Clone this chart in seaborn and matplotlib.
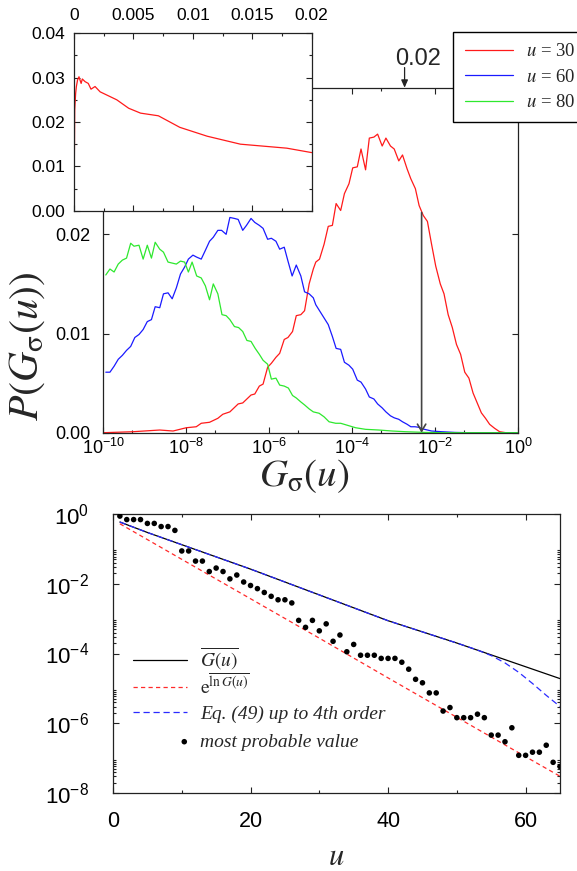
import numpy as np
import pandas as pd
import matplotlib
matplotlib.use("Agg")
import matplotlib.pyplot as plt
from matplotlib.ticker import FixedLocator, FixedFormatter, NullFormatter
from matplotlib.legend import Legend
from matplotlib.legend_handler import HandlerPathCollection
from matplotlib.collections import PathCollection
import seaborn as sns

# ---------------- distributions P(G_sigma(u)) : log10(G) and P (in units of 1e-2)
u30_logG = [-10.0, -9.28, -8.64, -8.32, -8.0, -7.76, -7.64, -7.44, -7.24, -7.12,
            -6.95, -6.75, -6.64, -6.44, -6.35, -6.24, -6.15, -6.04, -5.95, -5.84,
            -5.75, -5.64, -5.55, -5.44, -5.35, -5.24, -5.15, -5.04, -4.94, -4.88,
            -4.79, -4.68, -4.58, -4.48, -4.39, -4.28, -4.19, -4.08, -3.99, -3.88,
            -3.79, -3.68, -3.59, -3.48, -3.39, -3.28, -3.19, -3.08, -2.99, -2.88,
            -2.79, -2.68, -2.59, -2.48, -2.39, -2.29, -2.19, -2.09, -1.99, -1.88,
            -1.79, -1.69, -1.59, -1.49, -1.39, -1.29, -1.19, -1.09, -0.99, -0.89,
            -0.79, -0.69, -0.57, -0.45, -0.30, 0.0]
u30_P = [0.0, 0.01, 0.027, 0.017, 0.05, 0.06, 0.095, 0.105, 0.145, 0.186,
         0.21, 0.29, 0.30, 0.38, 0.39, 0.47, 0.49, 0.66, 0.70, 0.76,
         0.80, 0.94, 0.96, 1.02, 1.18, 1.19, 1.23, 1.50, 1.65, 1.72,
         1.75, 1.90, 2.08, 2.09, 2.31, 2.24, 2.41, 2.51, 2.67, 2.68,
         2.86, 2.65, 2.97, 2.98, 3.01, 2.89, 2.97, 2.89, 2.86, 2.74,
         2.80, 2.66, 2.56, 2.46, 2.29, 2.19, 2.13, 1.90, 1.68, 1.50,
         1.40, 1.19, 1.06, 0.89, 0.79, 0.61, 0.55, 0.40, 0.30, 0.20,
         0.145, 0.084, 0.044, 0.01, 0.0, 0.0]

u60_logG = [-9.94, -9.84, -9.74, -9.64, -9.54, -9.44, -9.34, -9.24, -9.14, -9.04,
            -8.94, -8.84, -8.75, -8.64, -8.55, -8.44, -8.34, -8.24, -8.14, -8.04,
            -7.95, -7.84, -7.75, -7.64, -7.55, -7.44, -7.35, -7.24, -7.15, -7.04,
            -6.95, -6.84, -6.75, -6.64, -6.55, -6.44, -6.35, -6.24, -6.15, -6.04,
            -5.95, -5.84, -5.75, -5.64, -5.55, -5.45, -5.35, -5.24, -5.15, -5.04,
            -4.94, -4.88, -4.76, -4.58, -4.48, -4.39, -4.28, -4.19, -4.08, -3.99,
            -3.88, -3.79, -3.68, -3.59, -3.48, -3.39, -3.28, -3.19, -3.08, -2.99,
            -2.88, -2.79, -2.68, -2.59, -2.49, -2.39, -2.29, -2.09, -1.85, -1.53,
            -1.20, 0.0]
u60_P = [0.61, 0.61, 0.67, 0.74, 0.78, 0.83, 0.87, 0.96, 0.99, 1.04,
         1.12, 1.14, 1.27, 1.26, 1.40, 1.41, 1.35, 1.46, 1.60, 1.67,
         1.75, 1.79, 1.77, 1.75, 1.83, 1.93, 1.97, 2.04, 2.04, 2.00,
         2.17, 2.16, 2.15, 2.04, 2.09, 2.16, 2.12, 2.09, 2.06, 1.95,
         1.96, 1.93, 1.85, 1.87, 1.73, 1.58, 1.69, 1.58, 1.42, 1.40,
         1.36, 1.29, 1.21, 1.09, 0.97, 0.85, 0.84, 0.71, 0.68, 0.64,
         0.53, 0.51, 0.44, 0.36, 0.34, 0.29, 0.25, 0.21, 0.17, 0.15,
         0.135, 0.11, 0.085, 0.06, 0.06, 0.054, 0.037, 0.017, 0.010, 0.003,
         0.0, 0.0]

u80_logG = [-9.94, -9.84, -9.74, -9.64, -9.54, -9.44, -9.34, -9.26, -9.14, -9.04,
            -8.94, -8.84, -8.75, -8.64, -8.55, -8.44, -8.34, -8.24, -8.14, -8.04,
            -7.95, -7.86, -7.75, -7.64, -7.54, -7.44, -7.35, -7.24, -7.14, -7.04,
            -6.95, -6.84, -6.74, -6.64, -6.54, -6.44, -6.34, -6.24, -6.15, -6.04,
            -5.95, -5.84, -5.75, -5.64, -5.54, -5.44, -5.35, -5.24, -5.15, -5.04,
            -4.94, -4.80, -4.68, -4.56, -4.40, -4.28, -4.08, -3.92, -3.68, -3.36,
            -3.04, -2.72, -2.25, -1.80, 0.0]
u80_P = [1.59, 1.65, 1.62, 1.70, 1.74, 1.76, 1.91, 1.88, 1.89, 1.75,
         1.89, 1.76, 1.92, 1.85, 1.82, 1.72, 1.71, 1.70, 1.73, 1.72,
         1.62, 1.72, 1.58, 1.56, 1.48, 1.34, 1.50, 1.40, 1.19, 1.18,
         1.14, 1.07, 1.06, 1.02, 0.93, 0.92, 0.85, 0.79, 0.73, 0.69,
         0.54, 0.55, 0.48, 0.47, 0.45, 0.375, 0.35, 0.31, 0.28, 0.24,
         0.21, 0.196, 0.16, 0.11, 0.095, 0.095, 0.07, 0.05, 0.034, 0.027,
         0.017, 0.010, 0.003, 0.0, 0.0]

# u=30 distribution on a linear G axis (inset)
inset_G = [0.0, 0.00006, 0.00014, 0.0002, 0.0003, 0.00042, 0.0005, 0.0006, 0.0007,
           0.00093, 0.0012, 0.00143, 0.00177, 0.0022, 0.0036, 0.0046, 0.0056,
           0.0071, 0.0089, 0.0112, 0.014, 0.0179, 0.02]
inset_P = [0.0, 0.0227, 0.0265, 0.028, 0.0295, 0.0302, 0.0295, 0.0287, 0.0297,
           0.0291, 0.0287, 0.0274, 0.028, 0.0268, 0.025, 0.0231, 0.022,
           0.0214, 0.0188, 0.0168, 0.015, 0.0141, 0.0131]

# marked values on the G axis
marker_logG = -2.33
marker_P = 0.0222
arrow_logG = -2.74

series_labels = ["$u$ = 30", "$u$ = 60", "$u$ = 80"]
series_colors = ["#ff1a1a", "#1a1aff", "#2ee82e"]

# ---------------- decay with u (log10 values)
u_vals = list(range(1, 66))
mpv_log = [-0.06, -0.16, -0.16, -0.16, -0.27, -0.27, -0.36, -0.36, -0.47, -1.06,
           -1.06, -1.35, -1.35, -1.65, -1.55, -1.65, -1.86, -1.75, -1.95, -2.05,
           -2.14, -2.25, -2.36, -2.46, -2.46, -2.55, -3.05, -3.25, -3.05, -3.35,
           -3.15, -3.65, -3.47, -3.95, -3.74, -4.05, -4.05, -4.05, -4.14, -4.14,
           -4.14, -4.25, -4.45, -4.74, -4.84, -5.13, -5.13, -5.65, -5.55, -5.84,
           -5.84, -5.84, -5.74, -5.84, -6.34, -6.34, -6.53, -6.13, -6.92, -6.92,
           -6.83, -6.83, -6.63, -7.12, -7.24]

gbar_u = [1, 5, 10, 15, 20, 25, 30, 35, 40, 45, 50, 55, 60, 65]
gbar_log = [-0.23, -0.53, -0.88, -1.23, -1.58, -1.95, -2.32, -2.69, -3.06, -3.38,
            -3.70, -4.04, -4.38, -4.72]

lnmean_u = [1, 10, 20, 30, 40, 50, 60, 65]
lnmean_log = [-0.28, -1.30, -2.43, -3.56, -4.70, -5.83, -6.96, -7.52]

eq49_u = [1, 5, 10, 15, 20, 25, 30, 35, 40, 45, 50, 53, 55, 57, 59, 61, 63, 65]
eq49_log = [-0.23, -0.53, -0.88, -1.23, -1.58, -1.95, -2.32, -2.69, -3.06, -3.38,
            -3.70, -3.90, -4.06, -4.27, -4.54, -4.86, -5.20, -5.52]

legend2_labels = [r"$\overline{G(u)}$", r"$\mathrm{e}^{\overline{\ln G(u)}}$",
                  "Eq. (49) up to 4th order", "most probable value"]

# ---------------- style
sns.set_style("ticks")
plt.rcParams.update({
    "font.family": ["Liberation Sans", "DejaVu Sans"],
    "mathtext.fontset": "stix",
    "axes.edgecolor": "#222222",
    "axes.linewidth": 0.9,
    "axes.facecolor": "white",
    "xtick.direction": "in",
    "ytick.direction": "in",
    "xtick.top": True,
    "ytick.right": True,
    "xtick.color": "#222222",
    "ytick.color": "#222222",
    "xtick.labelcolor": "black",
    "ytick.labelcolor": "black",
})

W, H = 577, 871
fig = plt.figure(figsize=(W / 100, H / 100), dpi=100)


def frac(left, top, right, bottom):
    return [left / W, 1 - bottom / H, (right - left) / W, (bottom - top) / H]


def sup(e):
    return r"$\mathregular{10^{%d}}$" % e


# ---------------- top: distributions on a log G axis
ax = fig.add_axes(frac(103.3, 87.7, 518.3, 432.7))
ax.set_xscale("log")
handles = []
for lg, p, col in zip([u30_logG, u60_logG, u80_logG], [u30_P, u60_P, u80_P], series_colors):
    df = pd.DataFrame({"G": 10 ** np.array(lg), "P": np.array(p) * 1e-2})
    sns.lineplot(data=df, x="G", y="P", color=col, lw=0.9, estimator=None,
                 sort=False, ax=ax)
    handles.append(ax.lines[-1])
if ax.get_legend() is not None:
    ax.get_legend().remove()

ax.set_xlim(1e-10, 1)
ax.set_ylim(0, 0.03478)
ax.xaxis.set_major_locator(FixedLocator([10.0 ** e for e in range(-10, 1, 2)]))
ax.xaxis.set_major_formatter(FixedFormatter([sup(e) for e in range(-10, 1, 2)]))
ax.xaxis.set_minor_locator(FixedLocator([5 * 10.0 ** e for e in range(-10, -1, 2)]))
ax.xaxis.set_minor_formatter(NullFormatter())
ax.set_yticks([0, 0.01, 0.02])
ax.set_yticklabels(["0.00", "0.01", "0.02"])
ax.tick_params(which="major", length=4.5, width=0.8, labelsize=13)
ax.tick_params(which="minor", length=2.5, width=0.8)
ax.tick_params(axis="x", pad=4)
ax.tick_params(axis="y", pad=9)
ax.set_ylabel(r"$P(G_{\mathrm{\sigma}}(u))$", fontsize=30)
ax.yaxis.set_label_coords(-0.136, 0.25)
ax.set_xlabel(r"$G_{\mathrm{\sigma}}(u)$", fontsize=28)
ax.xaxis.set_label_coords(0.4836, -0.072)

# marked value with arrow down to the axis
ax.annotate("", xy=(10 ** marker_logG, 0), xytext=(10 ** marker_logG, marker_P),
            arrowprops=dict(arrowstyle="->,head_length=0.5,head_width=0.3",
                            color="#444444", lw=1.2, shrinkA=0, shrinkB=0))
ax.annotate("", xy=(10 ** arrow_logG, 1), xycoords=("data", "axes fraction"),
            xytext=(0, 14.5), textcoords="offset points",
            arrowprops=dict(arrowstyle="-|>,head_length=0.45,head_width=0.2",
                            color="#222222", lw=0.9, shrinkA=0, shrinkB=0))
ax.annotate("0.02", xy=(10 ** arrow_logG, 1), xycoords=("data", "axes fraction"),
            xytext=(10, 20.7), textcoords="offset points", ha="center", va="center",
            fontsize=17)

# ---------------- inset: linear G axis
axi = fig.add_axes(frac(74, 33.3, 311.7, 210.7))
sns.lineplot(x=inset_G, y=inset_P, color=series_colors[0], lw=0.9, estimator=None,
             sort=False, ax=axi)
axi.set_xlim(0, 0.02)
axi.set_ylim(0, 0.04)
axi.set_xticks([0, 0.005, 0.01, 0.015, 0.02])
axi.set_xticklabels(["0", "0.005", "0.01", "0.015", "0.02"])
axi.xaxis.set_minor_locator(FixedLocator([0.0025, 0.0075, 0.0125, 0.0175]))
axi.set_yticks([0, 0.01, 0.02, 0.03, 0.04])
axi.set_yticklabels(["0.00", "0.01", "0.02", "0.03", "0.04"])
axi.yaxis.set_minor_locator(FixedLocator([0.005, 0.015, 0.025, 0.035]))
axi.tick_params(axis="x", which="both", top=True, bottom=True, labeltop=True,
                labelbottom=False, pad=7.5)
axi.tick_params(axis="y", which="both", left=True, right=True, pad=6.5)
axi.tick_params(which="major", length=4.5, width=0.8, labelsize=12.5)
axi.tick_params(which="minor", length=2.5, width=0.8)
axi.set_xlabel("")
axi.set_ylabel("")

leg = fig.legend(handles, series_labels, loc="upper left",
                 bbox_to_anchor=(453.3 / W, 1 - 31.7 / H), bbox_transform=fig.transFigure,
                 frameon=True, fancybox=False, framealpha=1, edgecolor="black",
                 facecolor="white", borderaxespad=0, borderpad=0.6, handlelength=2.6,
                 handletextpad=0.7, labelspacing=0.45,
                 prop={"family": "Liberation Serif", "size": 13.5})
leg.get_frame().set_linewidth(1.0)

# ---------------- bottom: decay with u
ax2 = fig.add_axes(frac(113, 514, 560, 793))
ax2.set_yscale("log")
sns.lineplot(x=gbar_u, y=10 ** np.array(gbar_log), color="black", lw=0.9,
             estimator=None, sort=False, ax=ax2)
sns.lineplot(x=lnmean_u, y=10 ** np.array(lnmean_log), color="#ff2a2a", lw=0.9,
             linestyle=(0, (3.4, 2.6)), estimator=None, sort=False, ax=ax2)
sns.lineplot(x=eq49_u, y=10 ** np.array(eq49_log), color="#2a2aff", lw=0.9,
             linestyle=(0, (5, 3)), estimator=None, sort=False, ax=ax2)
sns.scatterplot(x=u_vals, y=10 ** np.array(mpv_log), color="black", s=16,
                edgecolor="none", ax=ax2, zorder=4)
if ax2.get_legend() is not None:
    ax2.get_legend().remove()
ax2.set_xlim(0, 65)
ax2.set_ylim(1e-8, 1)
ax2.set_xticks([0, 20, 40, 60])
ax2.xaxis.set_minor_locator(FixedLocator([10, 30, 50]))
ax2.yaxis.set_major_locator(FixedLocator([10.0 ** e for e in range(-8, 1, 2)]))
ax2.yaxis.set_major_formatter(FixedFormatter([sup(e) for e in range(-8, 1, 2)]))
ax2.yaxis.set_minor_locator(FixedLocator([k * 10.0 ** e for e in (-2, -4, -6, -8)
                                          for k in range(2, 10)]))
ax2.yaxis.set_minor_formatter(NullFormatter())
ax2.tick_params(which="major", length=4.5, width=0.8)
ax2.tick_params(which="minor", length=2.5, width=0.8)
ax2.tick_params(axis="x", pad=13, labelsize=15.5)
ax2.tick_params(axis="y", pad=17, labelsize=16)
ax2.set_xlabel(r"$u$", fontsize=22)
ax2.xaxis.set_label_coords(0.5, -0.176)
ax2.set_ylabel("")


class EndDot(HandlerPathCollection):
    def get_xdata(self, legend, xdescent, ydescent, width, height, fontsize):
        xd = np.array([width - xdescent - 2.0])
        return xd, xd


# one entry per legend box so the rows sit at an even pitch
h2 = [ax2.lines[0], ax2.lines[1], ax2.lines[2], ax2.collections[0]]
row_y = [659, 686, 714, 742]
for hnd, lab, yy in zip(h2, legend2_labels, row_y):
    lg2 = Legend(ax2, [hnd], [lab], loc="center left",
                 bbox_to_anchor=((133 - 113) / 447, (793 - yy) / 279),
                 frameon=False, borderpad=0, borderaxespad=0, handlelength=2.78,
                 handletextpad=0.67,
                 prop={"family": "Liberation Serif", "style": "italic", "size": 14},
                 handler_map={PathCollection: EndDot()})
    ax2.add_artist(lg2)

fig.savefig("out.png", dpi=100)
